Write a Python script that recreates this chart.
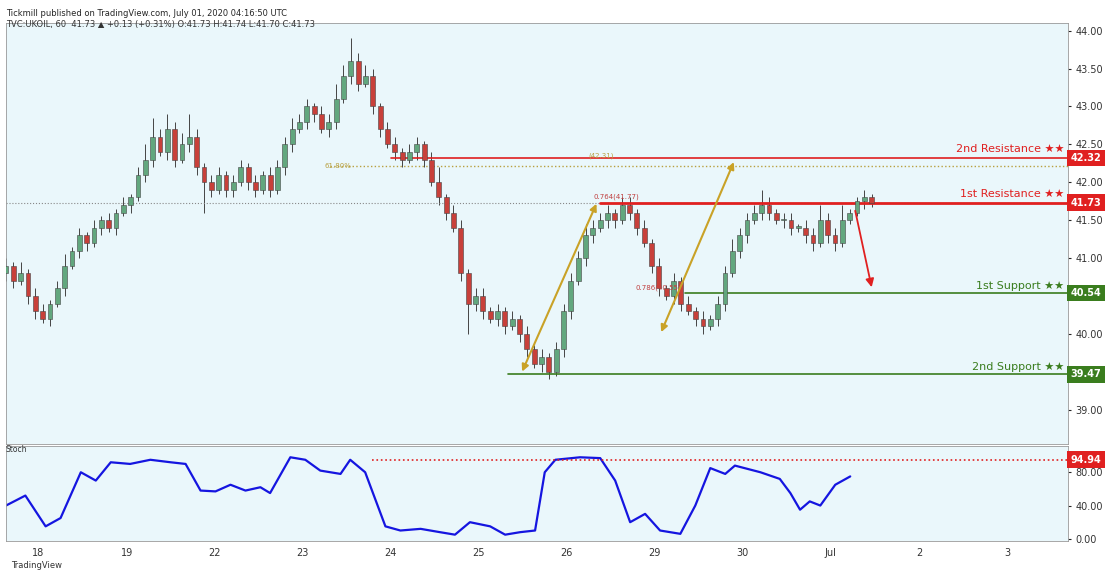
import numpy as np, pandas as pd, seaborn as sns, matplotlib
matplotlib.use("Agg")
import matplotlib.pyplot as plt

closes = [40.9,40.7,40.8,40.5,40.3,
 40.2,40.4,40.6,40.9,41.1,41.3,41.2,41.4,41.5,41.4,41.6,41.7,
 41.8,42.1,42.3,42.6,42.4,42.7,42.3,42.5,42.6,42.2,42.0,41.9,
 42.1,41.9,42.0,42.2,42.0,41.9,42.1,41.9,42.2,42.5,42.7,42.8,
 43.0,42.9,42.7,42.8,43.1,43.4,43.6,43.3,43.4,43.0,42.7,42.5,
 42.4,42.3,42.4,42.5,42.3,42.0,41.8,41.6,41.4,40.8,40.4,40.5,
 40.3,40.2,40.3,40.1,40.2,40.0,39.8,39.6,39.7,39.5,39.8,40.3,
 40.7,41.0,41.3,41.4,41.5,41.6,41.5,41.7,41.6,41.4,41.2,40.9,
 40.6,40.5,40.7,40.4,40.3,40.2,40.1,40.2,40.4,40.8,41.1,41.3,
 41.5,41.6,41.7,41.6,41.5,41.5,41.4,41.4,41.3,41.2,41.5,41.3,
 41.2,41.5,41.6,41.75,41.8,41.73]
opens = [40.8] + closes[:-1]
wick_up = [0.1,0.05,0.15,0.05,0.1,0.1,0.05,0.1,0.15,0.05,0.1,0.05,0.1,0.05,0.1,0.05,0.1,
 0.05,0.1,0.2,0.25,0.1,0.2,0.1,0.15,0.3,0.1,0.05,0.1,0.1,0.05,0.1,0.1,0.05,0.1,0.05,0.1,
 0.1,0.1,0.15,0.1,0.1,0.05,0.1,0.1,0.2,0.15,0.3,0.1,0.15,0.1,0.05,0.1,0.1,0.05,0.1,0.1,
 0.05,0.1,0.2,0.05,0.1,0.1,0.05,0.1,0.1,0.05,0.1,0.05,0.1,0.05,0.1,0.05,0.1,0.05,0.1,0.1,
 0.1,0.1,0.15,0.1,0.1,0.1,0.05,0.1,0.1,0.05,0.1,0.05,0.1,0.05,0.1,0.05,0.1,0.05,0.1,0.05,
 0.1,0.1,0.15,0.1,0.1,0.1,0.2,0.1,0.05,0.1,0.1,0.05,0.1,0.1,0.2,0.1,0.1,0.2,0.05,0.05,0.1,0.05]
wick_dn = [0.1,0.1,0.05,0.1,0.1,0.05,0.1,0.05,0.1,0.05,0.1,0.1,0.05,0.1,0.05,0.1,0.05,
 0.1,0.05,0.1,0.1,0.05,0.1,0.1,0.05,0.1,0.1,0.4,0.1,0.05,0.1,0.1,0.05,0.1,0.1,0.05,0.1,
 0.05,0.1,0.1,0.05,0.1,0.1,0.05,0.1,0.1,0.05,0.1,0.1,0.05,0.1,0.1,0.05,0.1,0.1,0.05,0.1,
 0.1,0.05,0.1,0.1,0.05,0.1,0.4,0.1,0.1,0.05,0.1,0.1,0.05,0.1,0.1,0.05,0.1,0.1,0.05,0.1,
 0.1,0.05,0.1,0.1,0.05,0.1,0.1,0.05,0.1,0.1,0.05,0.1,0.1,0.05,0.1,0.1,0.05,0.1,0.1,0.05,
 0.1,0.1,0.05,0.1,0.1,0.05,0.1,0.1,0.05,0.1,0.1,0.05,0.1,0.1,0.05,0.1,0.1,0.05,0.05,0.05,0.1,0.05]
candle_day = [-0.37 + i/12 for i in range(len(closes))]

stoch_day = [-0.37,-0.15,0.08,0.25,0.48,0.65,0.82,1.04,1.27,1.5,1.67,1.84,2.01,2.18,2.35,2.52,2.63,
 2.86,3.03,3.2,3.43,3.54,3.71,3.94,4.11,4.34,4.56,4.73,4.9,5.13,5.3,5.47,5.64,5.75,5.87,6.15,6.38,
 6.55,6.72,6.89,7.06,7.29,7.46,7.63,7.8,7.91,8.2,8.42,8.54,8.65,8.76,8.88,9.05,9.22]
stoch_val = [40,52,15,25,80,70,92,90,95,92,90,58,57,65,58,62,55,98,95,82,78,95,80,15,10,12,8,5,20,
 15,5,8,10,80,95,98,97,70,20,30,10,6,40,85,78,88,80,72,55,35,45,40,65,75]

day_labels = ["18","19","22","23","24","25","26","29","30","Jul","2","3"]
price_ticks = [39.0, 40.0, 41.0, 41.5, 42.0, 42.5, 43.0, 43.5, 44.0]
levels = {"2nd Resistance": 42.32, "1st Resistance": 41.73, "1st Support": 40.54, "2nd Support": 39.47}

sns.set_style("white")
bg = "#eaf7fb"
fig = plt.figure(figsize=(11.11,5.75), dpi=100)
ax = fig.add_axes([0.005, 0.228, 0.956, 0.732])
ax2 = fig.add_axes([0.005, 0.06, 0.956, 0.165], sharex=ax)
for a in (ax, ax2):
    a.set_facecolor(bg)
    for s in a.spines.values(): s.set_color("#999999"); s.set_linewidth(0.6)
up, dn = "#62a77e", "#c8403a"
df = pd.DataFrame(dict(x=candle_day, o=opens, c=closes,
                       h=np.maximum(opens, closes)+np.array(wick_up[:len(closes)]),
                       l=np.minimum(opens, closes)-np.array(wick_dn[:len(closes)])))
for r in df.itertuples():
    col = up if r.c >= r.o else dn
    ax.vlines(r.x, r.l, r.h, color="#444444", lw=0.7, zorder=2)
    ax.bar(r.x, max(abs(r.c-r.o), 0.02), bottom=min(r.o, r.c), width=0.055, color=col,
           edgecolor="#444444", lw=0.4, zorder=3)
ax.set_xlim(-0.375, 11.69); ax.set_ylim(38.55, 44.1)
ax.yaxis.tick_right()
ax.set_yticks(price_ticks)
ax.set_yticklabels([f"{v:.2f}" for v in price_ticks], fontsize=7, color="#333")
ax.tick_params(axis="x", labelbottom=False, length=0)
ax.tick_params(axis="y", length=2)

ax.axhline(41.73, color="#888", ls=":", lw=0.8)
ax.plot([4.0, 11.69], [42.32]*2, color="#e02020", lw=1.2)
ax.plot([6.38, 11.69], [41.73]*2, color="#e02020", lw=2)
ax.plot([7.34, 11.69], [40.54]*2, color="#3a7d1e", lw=1.2)
ax.plot([5.33, 11.69], [39.47]*2, color="#3a7d1e", lw=1.2)
ax.plot([3.31, 11.69], [42.22]*2, color="#b8a040", ls=":", lw=1)
ax.text(3.55, 42.22, "61.80%", fontsize=5, color="#b8a040", va="center", ha="right")
ax.text(6.25, 42.31, "(42.31)", fontsize=5, color="#b8a040", va="bottom")
ax.text(6.3, 41.76, "0.764(41.77)", fontsize=5, color="#c04040", va="bottom")
ax.text(7.3, 40.56, "0.786(40.55)", fontsize=5, color="#c04040", va="bottom", ha="right")
offs = {"2nd Resistance": 0.05, "1st Resistance": 0.05, "1st Support": 0.03, "2nd Support": 0.03}
for name, v in levels.items():
    col = "#e02020" if "Resistance" in name else "#3a7d1e"
    ax.text(11.65, v+offs[name], name+" ★★", color=col, fontsize=8, ha="right", va="bottom")
    ax.text(1.003, v, f"{v:.2f}", transform=ax.get_yaxis_transform(), fontsize=7, color="white",
            fontweight="bold", va="center", ha="left",
            bbox=dict(boxstyle="square,pad=0.35", fc=col, ec="none"))
gold = "#c9a227"
for (x0,y0,x1,y1) in [(5.48,39.47,6.35,41.75),(7.06,39.99,7.91,42.30)]:
    ax.annotate("", xy=(x1,y1), xytext=(x0,y0), arrowprops=dict(arrowstyle="<|-|>", color=gold, lw=1.5, mutation_scale=10))
ax.annotate("", xy=(9.47,40.58), xytext=(9.27,41.66), arrowprops=dict(arrowstyle="-|>", color="#e02020", lw=1.3, mutation_scale=12))

ax2.plot(stoch_day, stoch_val, color="#1515e0", lw=1.6)
ax2.axhline(94.94, xmin=0.345, color="#e02020", ls=":", lw=1.2)
ax2.set_ylim(-2, 112)
ax2.yaxis.tick_right()
ax2.set_yticks([0, 40, 80]); ax2.set_yticklabels(["0.00","40.00","80.00"], fontsize=7, color="#333")
ax2.text(1.003, 94.94, "94.94", transform=ax2.get_yaxis_transform(), fontsize=7, color="white",
         fontweight="bold", va="center", bbox=dict(boxstyle="square,pad=0.35", fc="#e02020", ec="none"))
ax2.text(0.0, 104, "Stoch", fontsize=5.5, color="#333", transform=ax2.get_yaxis_transform())
ax2.set_xticks(range(len(day_labels)))
ax2.set_xticklabels(day_labels, fontsize=7, color="#333")
ax2.tick_params(axis="x", length=2)
ax2.tick_params(axis="y", length=2)

fig.text(0.005, 0.985, "Tickmill published on TradingView.com, July 01, 2020 04:16:50 UTC", fontsize=6, va="top")
fig.text(0.005, 0.965, "TVC:UKOIL, 60  41.73 ▲ +0.13 (+0.31%) O:41.73 H:41.74 L:41.70 C:41.73", fontsize=6, va="top", color="#333")
fig.text(0.01, 0.012, "TradingView", fontsize=6, color="#333")
fig.savefig("out.png", dpi=100)
